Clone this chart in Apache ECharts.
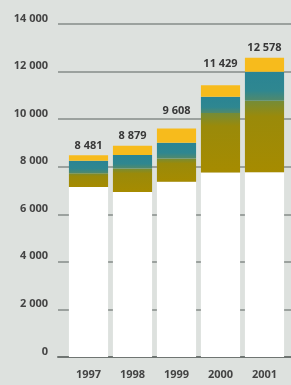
<!DOCTYPE html>
<html>
<head>
<meta charset="utf-8">
<script src="https://cdn.jsdelivr.net/npm/echarts@6/dist/echarts.min.js"></script>
<style>
    html, body { margin: 0; padding: 0; background: #dde1de; }
    #chart { width: 291px; height: 385px; }
</style>
</head>
<body>
<div id="chart"></div>
<script>
const years = ['1997', '1998', '1999', '2000', '2001']
const totals = [8481, 8879, 9608, 11429, 12578]
const baseWhite = [7150, 6940, 7365, 7760, 7770]
const oliveSeg = [580, 990, 985, 2500, 3000]
const tealSeg = [520, 560, 657, 685, 1225]
// yellow cap is whatever is left up to the printed total
const yellowSeg = totals.map((t, i) => t - baseWhite[i] - oliveSeg[i] - tealSeg[i])

const fmt = (v) => String(v).replace(/\B(?=(\d{3})+(?!\d))/g, ' ')
const textFont = { fontFamily: 'Open Sans', fontWeight: 700 }

const chart = echarts.init(document.getElementById('chart'))

// some labels sit higher to clear the gridlines
const labelRaise = [0, 0, 8, 12, 0]

const option = {
    backgroundColor: '#dde1de',
    animation: false,
    grid: [
        { left: 58, right: 0, top: 24, bottom: 28 },
        { left: 66.5, right: 4.5, top: 24, bottom: 28 }
    ],
    xAxis: [
        {
            gridIndex: 0,
            type: 'value',
            min: 0,
            max: 1,
            axisLine: { show: true, onZero: false, lineStyle: { color: '#6f7572', width: 2 } },
            axisTick: { show: false },
            axisLabel: { show: false },
            splitLine: { show: false }
        },
        {
            gridIndex: 1,
            type: 'category',
            data: years,
            axisLine: { show: false },
            axisTick: { show: false },
            axisLabel: {
                ...textFont,
                fontSize: 11,
                color: '#444',
                margin: 12
            }
        }
    ],
    yAxis: [
        {
            gridIndex: 0,
            type: 'value',
            min: 0,
            max: 14000,
            interval: 2000,
            axisLine: { show: false },
            axisTick: { show: false },
            axisLabel: {
                ...textFont,
                fontSize: 11,
                color: '#444',
                margin: 10,
                verticalAlign: 'bottom',
                formatter: (v) => fmt(v)
            },
            splitLine: { lineStyle: { color: '#858b89', width: 1.5 } }
        },
        {
            gridIndex: 1,
            type: 'value',
            min: 0,
            max: 14000,
            interval: 2000,
            show: false
        }
    ],
    series: [
        {
            type: 'bar',
            xAxisIndex: 1,
            yAxisIndex: 1,
            stack: 'total',
            barCategoryGap: '11%',
            data: baseWhite,
            itemStyle: { color: '#ffffff' }
        },
        {
            type: 'bar',
            xAxisIndex: 1,
            yAxisIndex: 1,
            stack: 'total',
            data: oliveSeg,
            itemStyle: {
                color: new echarts.graphic.LinearGradient(0, 0, 0, 1, [
                    { offset: 0, color: '#758c38' },
                    { offset: 0.22, color: '#9a8a0a' },
                    { offset: 1, color: '#a68b00' }
                ])
            }
        },
        {
            type: 'bar',
            xAxisIndex: 1,
            yAxisIndex: 1,
            stack: 'total',
            data: tealSeg,
            itemStyle: {
                color: new echarts.graphic.LinearGradient(0, 0, 0, 1, [
                    { offset: 0, color: '#2a8494' },
                    { offset: 0.65, color: '#2f8790' },
                    { offset: 1, color: '#52896a' }
                ])
            }
        },
        {
            type: 'bar',
            xAxisIndex: 1,
            yAxisIndex: 1,
            stack: 'total',
            data: yellowSeg.map((v, i) => ({
                value: v,
                label: { offset: [0, -labelRaise[i]] }
            })),
            itemStyle: { color: '#f7bb1c' },
            label: {
                show: true,
                position: 'top',
                distance: 4,
                ...textFont,
                fontSize: 11,
                color: '#383838',
                formatter: (p) => fmt(totals[p.dataIndex])
            }
        }
    ]
}

chart.setOption(option)
</script>
</body>
</html>
